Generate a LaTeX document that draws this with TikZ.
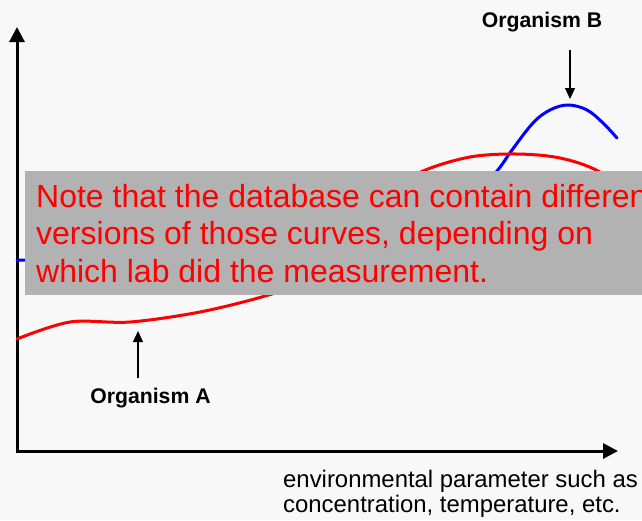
\documentclass[tikz,border=0pt]{standalone}
\usepackage{fontspec}
\setmainfont{Liberation Sans}
\usetikzlibrary{arrows.meta}

\definecolor{pagebg}{HTML}{F8F8F8}
\definecolor{notegray}{HTML}{B2B2B2}
\definecolor{curvered}{HTML}{FF0000}
\definecolor{curveblue}{HTML}{0000FF}

\tikzset{
  axisline/.style={line width=3pt, black, line join=miter, {Triangle[length=15pt,width=15pt]}-{Triangle[length=15pt,width=15pt]}},
  pointer/.style={line width=1.2pt, black, -{Triangle[length=11pt,width=10pt]}},
  curvepath/.style={line width=3pt, line cap=round, line join=round},
  orglabel/.style={font=\bfseries\fontsize{21.2}{24}\selectfont, inner sep=0pt},
  notetext/.style={font=\fontsize{32}{37.5}\selectfont, text=curvered, inner sep=0pt, anchor=base west},
  axislabel/.style={font=\fontsize{23.9}{25.5}\selectfont, inner sep=0pt, anchor=base west},
}

\begin{document}
\begin{tikzpicture}[x=1pt, y=-1pt]
  % page extent and background
  \useasboundingbox (0,0) rectangle (642,520);
  \clip (0,0) rectangle (642,520);
  \fill[pagebg] (0,0) rectangle (642,520);

  % axes
  \coordinate (origin) at (17,451);
  \coordinate (ytop) at (17,27);
  \coordinate (xend) at (618,451);
  \draw[axisline] (ytop) -- (origin) -- (xend);

  % organism B (blue)
  \draw[curvepath, curveblue] plot[smooth, tension=0.6] coordinates {
    (17,260) (60,262) (150,270) (300,265) (420,230) (470,200) (497,171)
    (512,150) (533,123) (550,110) (568,105) (587,110) (603,123) (617,138)};

  % organism A (red)
  \draw[curvepath, curvered] plot[smooth, tension=0.55] coordinates {
    (17,339) (70,322) (130,322) (200,312) (265,296) (290,285) (330,245)
    (380,195) (423,171) (470,157) (517,154) (560,158) (598,171) (640,200)};

  % note box
  \fill[notegray] (25,171) rectangle (700,295);
  \node[notetext] (note1) at (36,207) {Note that the database can contain different};
  \node[notetext] (note2) at (36,244.5) {versions of those curves, depending on};
  \node[notetext] (note3) at (36,282) {which lab did the measurement.};

  % organism labels and pointers
  \node[orglabel, anchor=base] (labB) at (542,27) {Organism B};
  \coordinate (tailB) at (570,50);
  \coordinate (tipB) at (570,99);
  \draw[pointer] (tailB) -- (tipB);

  \node[orglabel, anchor=base] (labA) at (150.5,403) {Organism A};
  \coordinate (tailA) at (138,378);
  \coordinate (tipA) at (138,331);
  \draw[pointer] (tailA) -- (tipA);

  % x-axis caption
  \node[axislabel] (xcap1) at (283,487) {environmental parameter such as};
  \node[axislabel] (xcap2) at (283,512.5) {concentration, temperature, etc.};
\end{tikzpicture}
\end{document}
